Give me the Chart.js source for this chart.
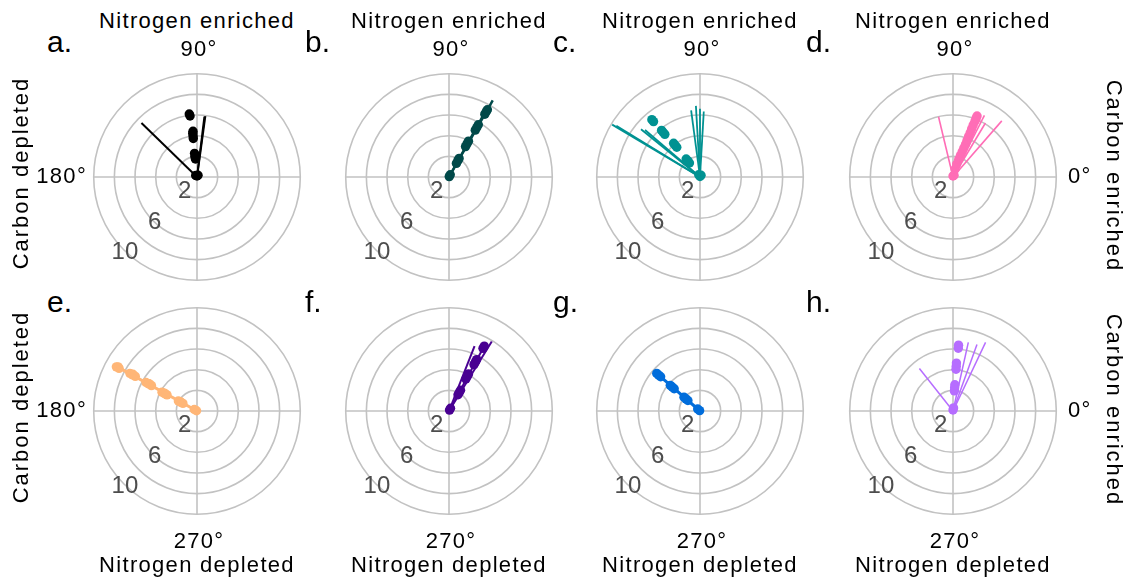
<!DOCTYPE html>
<html>
<head>
<meta charset="utf-8">
<script src="https://cdn.jsdelivr.net/npm/chart.js@4/dist/chart.umd.min.js"></script>
<style>
  html, body { margin: 0; padding: 0; background: #fff; }
  #wrap { position: relative; width: 1131px; height: 583px; overflow: hidden;
          font-family: "Liberation Sans", Arial, sans-serif; color: #000; }
  .txt { position: absolute; white-space: nowrap; line-height: 1; letter-spacing: 1.3px; }
  canvas { position: absolute; }
</style>
</head>
<body>
<div id="wrap"></div>
<script>
// ---- data: polar positions as [angle in degrees, magnitude] ----
const ringTicks = [2, 4, 6, 8, 10];
const ringLabels = [2, 6, 10];
const panelTags = ['a.', 'b.', 'c.', 'd.', 'e.', 'f.', 'g.', 'h.'];
const topTitle = 'Nitrogen enriched';
const bottomTitle = 'Nitrogen depleted';
const leftTitle = 'Carbon depleted';
const rightTitle = 'Carbon enriched';
const angleTop = '90°', angleBottom = '270°', angleLeft = '180°', angleRight = '0°';

const pointsA = [[90,0.1],[130,0.2],[60,0.2],[95,1.75],[96,2.0],[96,2.3],[95.5,3.75],[95.5,4.0],[95.5,4.25],[95,4.45],[96.5,5.95],[97,6.15]];
const vectorsA = [[135.8,7.5],[82.2,5.95],[83,5.9]];

const pointsB = [[60,0.05],[61,0.25],[61.5,1.5],[61.5,1.8],[61.5,2.05],[61.5,3.35],[61.5,3.65],[61.5,3.95],[60.7,5.2],[60.7,5.5],[60.7,5.8],[60.3,7.0],[60.3,7.3],[60.3,7.5]];
const vectorsB = [[60.3,8.55],[61,7.5]];

const pointsC = [[90,0.05],[120,0.25],[60,0.2],[127,1.7],[127,1.95],[127.5,2.2],[128,3.65],[128,3.9],[128,4.15],[129.5,5.35],[129.5,5.6],[129.5,5.85],[130,7.0],[130,7.25]];
const vectorsC = [[149.2,9.9],[148.5,9.5],[141,7.35],[139.5,7.0],[97.6,6.5],[93.3,6.9],[90,6.6],[86.7,6.35]];

const pointsD = [[90,0.1],[60,0.2],[75,0.8],[74,1.3],[72,1.8],[71,2.2],[70,2.6],[69.5,3.0],[69,3.4],[69,3.8],[69,4.2],[68.8,4.6],[68.8,5.0],[68.8,5.4],[68.5,5.8],[68.5,6.1],[68.5,6.35]];
const vectorsD = [[103.5,6.0],[49,7.2],[63,6.7],[59,6.1],[66,6.4]];

const pointsE = [[151,0.05],[151,0.3],[151.7,1.55],[151.7,1.8],[151.7,2.05],[151.2,1.8],[151.7,3.3],[151.7,3.55],[151.7,3.85],[151.2,3.6],[150.8,5.05],[150.8,5.35],[150.8,5.65],[150.3,5.35],[150.7,6.85],[150.7,7.15],[150.7,7.45],[150.2,7.15],[151.3,8.6],[151.3,8.9],[150.8,8.75]];
const vectorsE = [[151,8.9]];

const pointsF = [[60,0.1],[61,0.3],[61,1.8],[61,2.05],[61,2.3],[62.2,3.5],[62.2,3.8],[62.2,4.05],[61.7,5.1],[61.7,5.4],[61.7,5.65],[61.5,6.9],[61.5,7.15]];
const vectorsF = [[58.4,7.9],[68.5,6.75],[61.5,7.0]];

const pointsG = [[139,0.05],[139,0.3],[139.2,1.55],[139.2,1.8],[139.2,2.05],[139.2,3.3],[139.2,3.55],[139.2,3.8],[139,5.05],[139,5.3],[139,5.55]];
const vectorsG = [[139,5.4]];

const pointsH = [[90,0.1],[80,0.3],[86,1.95],[86,2.25],[86,2.55],[85.9,4.05],[85.9,4.35],[85.9,4.65],[85.2,6.1],[85.2,6.4]];
const vectorsH = [[128.3,5.25],[77.4,6.8],[70.2,6.85],[64.6,7.35]];

const panelPoints = [pointsA, pointsB, pointsC, pointsD, pointsE, pointsF, pointsG, pointsH];
const panelVectors = [vectorsA, vectorsB, vectorsC, vectorsD, vectorsE, vectorsF, vectorsG, vectorsH];

// ---- styling ----
const panelColors = ['#000000', '#004949', '#009292', '#ff6db6', '#ffb677', '#490092', '#006ddb', '#b66dff'];
const vectorWidths = [2, 2.5, 1.8, 1.6, 3, 2, 3, 1.5];
const gridColor = '#c2c2c2';
const tickColor = '#4d4d4d';

// ---- layout ----
const colX = [197, 449, 700, 953];
const rowY = [177, 411];
const HALF = 120;          // half canvas size, px
const PX_PER_UNIT = 10.75; // 10 units -> outer ring radius
const LIM = HALF / PX_PER_UNIT;

const wrap = document.getElementById('wrap');

function addText(str, x, y, size, opts = {}) {
  const d = document.createElement('div');
  d.className = 'txt';
  d.textContent = str;
  d.style.fontSize = size + 'px';
  d.style.left = x + 'px';
  d.style.top = y + 'px';
  d.style.color = opts.color || '#000';
  if (opts.spacing !== undefined) d.style.letterSpacing = opts.spacing + 'px';
  const tx = opts.align === 'left' ? '0' : opts.align === 'right' ? '-100%' : '-50%';
  d.style.transform = `translate(${tx}, -50%)` + (opts.rotate ? ` rotate(${opts.rotate}deg)` : '');
  wrap.appendChild(d);
  return d;
}

function toXY(list) {
  return list.map(([deg, r]) => {
    const a = deg * Math.PI / 180;
    return { x: r * Math.cos(a), y: r * Math.sin(a) };
  });
}

// polar grid: rings, spokes and magnitude labels
const polarGrid = {
  id: 'polarGrid',
  beforeDatasetsDraw(chart) {
    const xs = chart.scales.x, ys = chart.scales.y, ctx = chart.ctx;
    const cx = xs.getPixelForValue(0), cy = ys.getPixelForValue(0);
    const rOf = v => xs.getPixelForValue(v) - cx;
    const outer = rOf(ringTicks[ringTicks.length - 1]);
    ctx.save();
    ctx.strokeStyle = gridColor;
    ctx.lineWidth = 1.6;
    ringTicks.forEach(t => {
      ctx.beginPath();
      ctx.arc(cx, cy, rOf(t), 0, Math.PI * 2);
      ctx.stroke();
    });
    ctx.beginPath();
    ctx.moveTo(cx - outer, cy); ctx.lineTo(cx + outer, cy);
    ctx.moveTo(cx, cy - outer); ctx.lineTo(cx, cy + outer);
    ctx.stroke();
    ctx.fillStyle = tickColor;
    ctx.font = '24px "Liberation Sans", Arial, sans-serif';
    ctx.textAlign = 'center';
    ctx.textBaseline = 'middle';
    const ang = 225.5 * Math.PI / 180;
    ringLabels.forEach(t => {
      const rr = rOf(t) * 1.03;
      ctx.fillText(String(t), cx + rr * Math.cos(ang) + 2.5, cy - rr * Math.sin(ang) - 0.5);
    });
    ctx.restore();
  }
};

panelPoints.forEach((pts, i) => {
  const col = i % 4, row = Math.floor(i / 4);
  const cx = colX[col], cy = rowY[row];
  const canvas = document.createElement('canvas');
  canvas.width = HALF * 2; canvas.height = HALF * 2;
  canvas.style.left = (cx - HALF) + 'px';
  canvas.style.top = (cy - HALF) + 'px';
  wrap.appendChild(canvas);

  const color = panelColors[i];
  const datasets = [];
  panelVectors[i].forEach(v => {
    datasets.push({
      type: 'scatter', showLine: true,
      data: [{ x: 0, y: 0 }, ...toXY([v])],
      borderColor: color, borderWidth: vectorWidths[i],
      pointRadius: 0, fill: false
    });
  });
  datasets.push({
    type: 'scatter',
    data: toXY(pts),
    backgroundColor: color, borderColor: color, borderWidth: 0,
    pointRadius: 4.7, pointHoverRadius: 4.7
  });

  new Chart(canvas, {
    type: 'scatter',
    data: { datasets },
    options: {
      responsive: false, animation: false, events: [],
      devicePixelRatio: 1,
      layout: { padding: 0 },
      plugins: { legend: { display: false }, tooltip: { enabled: false } },
      scales: {
        x: { type: 'linear', min: -LIM, max: LIM, display: false },
        y: { type: 'linear', min: -LIM, max: LIM, display: false }
      }
    },
    plugins: [polarGrid]
  });
});

// ---- text around the panels ----
const tagX = [47, 305, 553, 806];
const tagBase = [53, 313];
panelTags.forEach((t, i) => {
  const col = i % 4, row = Math.floor(i / 4);
  addText(t, tagX[col], tagBase[row] - 0.3465 * 30 - 1, 30, { align: 'left', spacing: 0 });
});
colX.forEach(cx => {
  addText(topTitle, cx, 20.5, 22);
  addText(angleTop, cx + 2, 49.2, 22);
  addText(angleBottom, cx + 2, 540.5, 22);
  addText(bottomTitle, cx, 565, 22);
});
rowY.forEach((cy, r) => {
  addText(angleLeft, 87, cy - 1.5, 22, { align: 'right' });
  addText(angleRight, 1068, cy - 1.5, 22, { align: 'left' });
  addText(leftTitle, 21, cy - 4, 22, { rotate: -90, spacing: 2 });
  addText(rightTitle, 1114, cy - 1, 22, { rotate: 90, spacing: 2 });
});
</script>
</body>
</html>
